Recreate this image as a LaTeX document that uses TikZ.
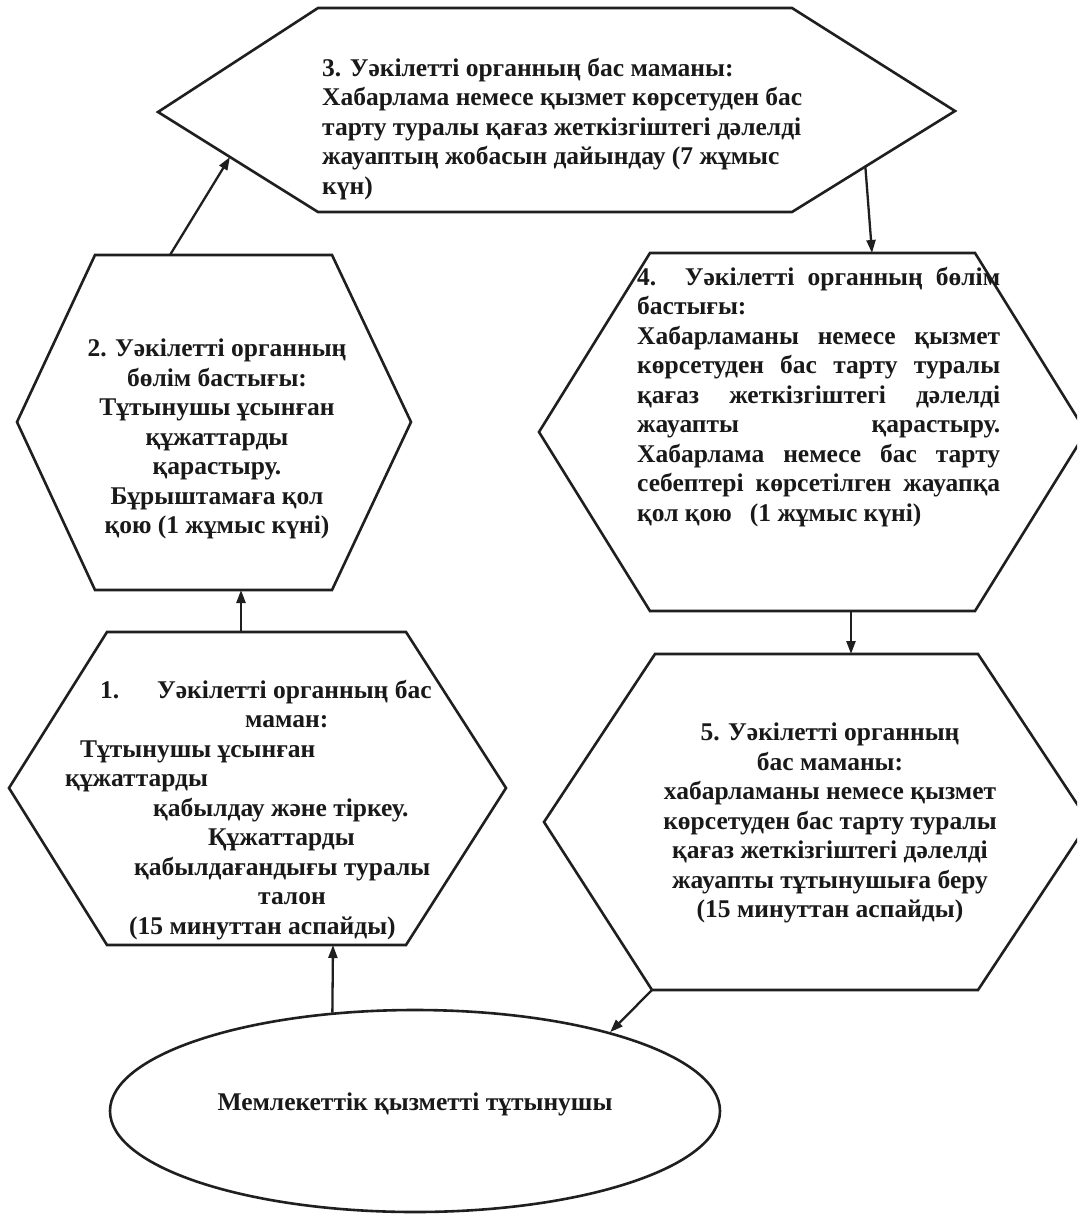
\documentclass[tikz,border=0pt]{standalone}
\usepackage{fontspec}
\setmainfont{Liberation Serif}
\usetikzlibrary{arrows.meta,calc,shapes.geometric}
\begin{document}
\begin{tikzpicture}[x=1pt,y=-1pt,
  outline/.style={draw=black!88, line width=2.6pt, line join=miter},
  txt/.style={inner sep=0pt, font=\bfseries\fontsize{25.5}{29.5}\selectfont, text=black!90},
  arr/.style={draw=black!88, line width=2.3pt, -{Triangle[length=13pt,width=9pt]}}]
\clip (0,0) rectangle (1077,1226);
\fill[white] (0,0) rectangle (1077,1226);

% --- box 3 (top)
\draw[outline] (158,112) coordinate (h3-l) -- (318,8) coordinate (h3-tl) -- (792,8) coordinate (h3-tr)
  -- (955,111) coordinate (h3-r) -- (792,212) coordinate (h3-br) -- (318,212) coordinate (h3-bl) -- cycle;
\node[txt, align=left, anchor=north west] (b3) at (322,58)
  {3. Уәкілетті органның бас маманы:\\
   Хабарлама немесе қызмет көрсетуден бас\\
   тарту туралы қағаз жеткізгіштегі дәлелді\\
   жауаптың жобасын дайындау (7 жұмыс\\
   күн)};

% --- box 2 (left middle)
\draw[outline] (17,422) coordinate (h2-l) -- (95,255) coordinate (h2-tl) -- (332,255) coordinate (h2-tr)
  -- (411,422) coordinate (h2-r) -- (332,590) coordinate (h2-br) -- (95,590) coordinate (h2-bl) -- cycle;
\node[txt, align=center] (b2) at (217,439)
  {2. Уәкілетті органның\\ бөлім бастығы:\\ Тұтынушы ұсынған\\ құжаттарды\\ қарастыру.\\ Бұрыштамаға қол\\ қою (1 жұмыс күні)};

% --- box 4 (right middle)
\draw[outline] (539,432) coordinate (h4-l) -- (650,253) coordinate (h4-tl) -- (975,253) coordinate (h4-tr)
  -- (1086,432) coordinate (h4-r) -- (975,611) coordinate (h4-br) -- (650,611) coordinate (h4-bl) -- cycle;
\def\bw{363pt}
\node[txt, align=left, anchor=north west] (b4) at (637,267)
  {\makebox[\bw][s]{4. Уәкілетті органның бөлім}\\
   бастығы:\\
   \makebox[\bw][s]{Хабарламаны немесе қызмет}\\
   \makebox[\bw][s]{көрсетуден бас тарту туралы}\\
   \makebox[\bw][s]{қағаз жеткізгіштегі дәлелді}\\
   \makebox[\bw][s]{жауапты қарастыру.}\\
   \makebox[\bw][s]{Хабарлама немесе бас тарту}\\
   \makebox[\bw][s]{себептері көрсетілген жауапқа}\\
   қол қою\hspace{18pt}(1 жұмыс күні)};

% --- box 1 (left bottom)
\draw[outline] (9,788) coordinate (h1-l) -- (107,632) coordinate (h1-tl) -- (406,632) coordinate (h1-tr)
  -- (506,788) coordinate (h1-r) -- (406,945) coordinate (h1-br) -- (107,945) coordinate (h1-bl) -- cycle;
\node[txt, align=left, anchor=north west] (b1) at (65,680)
  {\hspace*{35pt}\makebox[57pt][l]{1.}Уәкілетті органның бас\\
   \hspace*{180pt}маман:\\
   \hspace*{15pt}Тұтынушы ұсынған\\
   құжаттарды\\
   \hspace*{88pt}қабылдау және тіркеу.\\
   \hspace*{143pt}Құжаттарды\\
   \hspace*{69pt}қабылдағандығы туралы\\
   \hspace*{193pt}талон\\
   \hspace*{64pt}(15 минуттан аспайды)};

% --- box 5 (right bottom)
\draw[outline] (544,822) coordinate (h5-l) -- (655,654) coordinate (h5-tl) -- (978,654) coordinate (h5-tr)
  -- (1089,822) coordinate (h5-r) -- (978,990) coordinate (h5-br) -- (652,990) coordinate (h5-bl) -- cycle;
\node[txt, align=center] (b5) at (830,823)
  {5. Уәкілетті органның\\ бас маманы:\\ хабарламаны немесе қызмет\\ көрсетуден бас тарту туралы\\ қағаз жеткізгіштегі дәлелді\\ жауапты тұтынушыға беру\\ (15 минуттан аспайды)};

% --- consumer ellipse
\node[txt, ellipse, draw=black!88, line width=2.6pt, minimum width=610pt, minimum height=202pt,
      text depth=19pt] (c) at (415,1111) {Мемлекеттік қызметті тұтынушы};

% --- connector end points
\coordinate (p1s) at (333,945);
\coordinate (p12s) at (241,632);
\coordinate (p12e) at (241,590);
\coordinate (p23s) at (170,255);
\coordinate (p23e) at ($(h3-l)!0.45!(h3-bl)$);
\coordinate (p34s) at ($(h3-r)!0.55!(h3-br)$);
\coordinate (p34e) at (872,253);
\coordinate (p45s) at (851,611);
\coordinate (p45e) at (851,654);

% --- connectors
\draw[arr] (c.130) -- (p1s);
\draw[arr] (p12s) -- (p12e);
\draw[arr] (p23s) -- (p23e);
\draw[arr] (p34s) -- (p34e);
\draw[arr] (p45s) -- (p45e);
\draw[arr] (h5-bl) -- (c.22);
\end{tikzpicture}
\end{document}
